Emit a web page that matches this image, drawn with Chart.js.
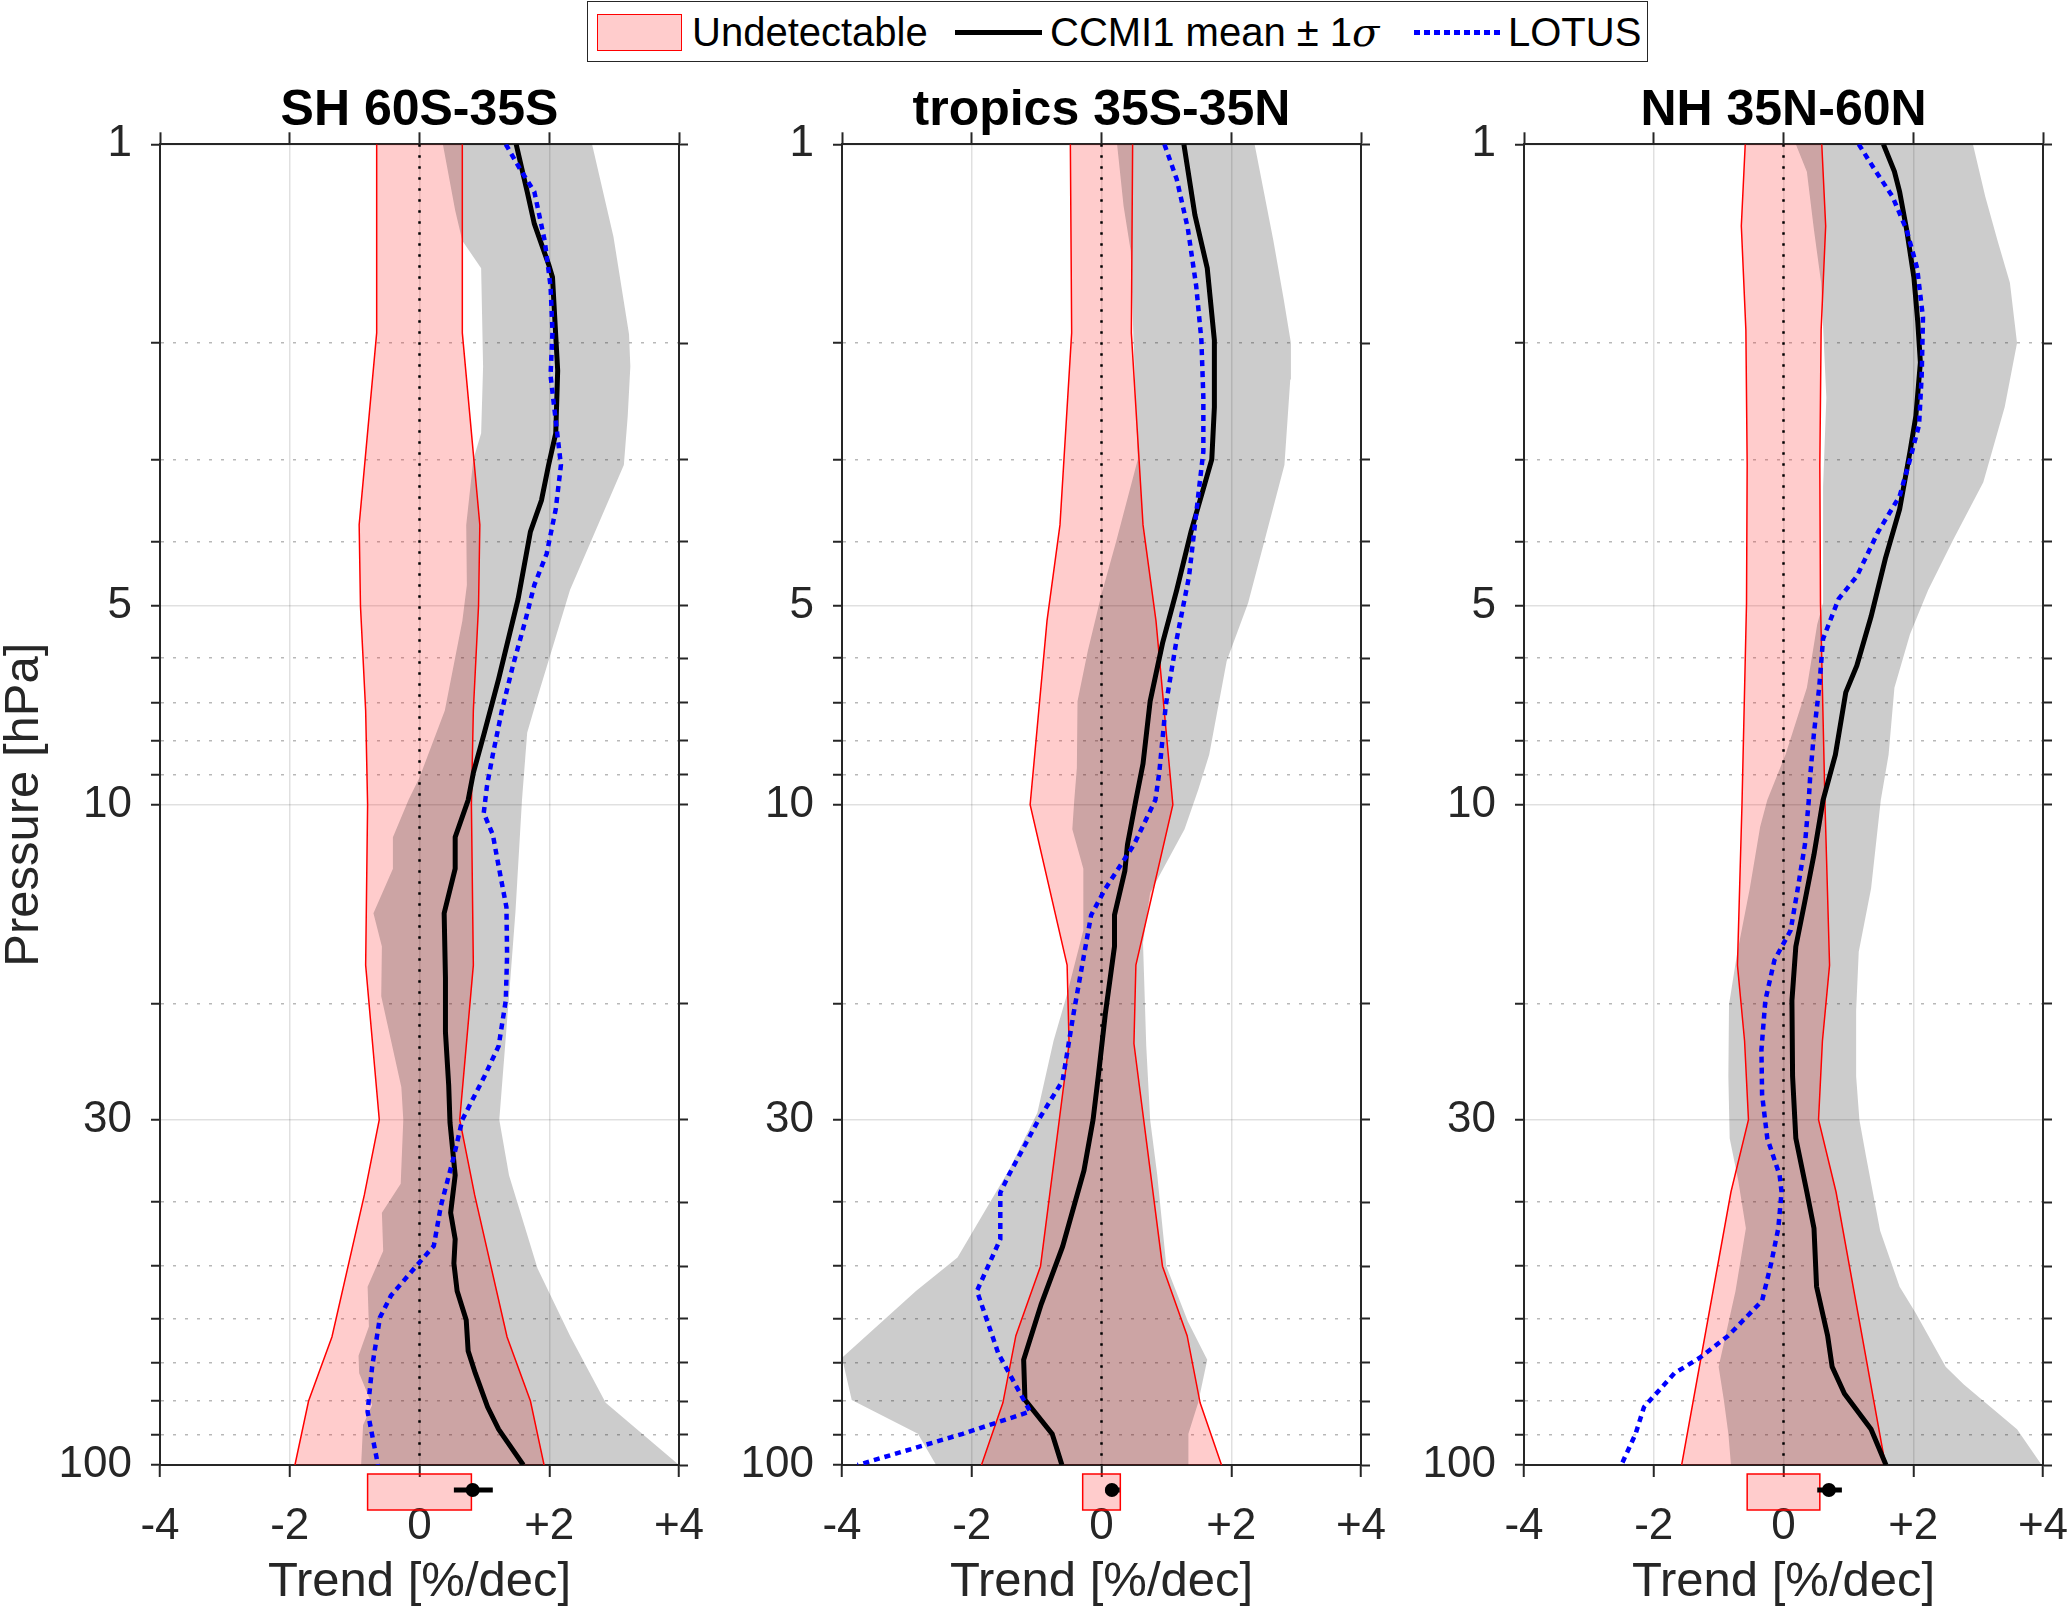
<!DOCTYPE html>
<html>
<head>
<meta charset="utf-8">
<script src="https://cdn.jsdelivr.net/npm/chart.js"></script>
<style>
  html, body { margin: 0; padding: 0; background: #fff; }
  body { position: relative; width: 2067px; height: 1608px; overflow: hidden; font-family: "Liberation Sans", Arial, sans-serif; }
  canvas { position: absolute; top: 0; }
  .leg { position: absolute; left: 587px; top: 1px; width: 1059px; height: 59px; border: 1.5px solid #262626; background: #fff; }
  .leg span { position: absolute; top: 6px; font-size: 40px; line-height: 48px; color: #000; white-space: nowrap; }
  .sw { position: absolute; top: 12px; left: 9px; width: 83px; height: 35px; background: rgba(255,0,0,0.2); border: 1.5px solid #ff0000; }
  .ln { position: absolute; top: 28px; left: 367px; width: 87px; height: 5px; background: #000; }
  .dl { position: absolute; top: 28px; left: 826px; width: 87px; height: 5px;
        background: repeating-linear-gradient(to right, #0000ff 0 6px, transparent 6px 10px); }
</style>
</head>
<body>
<div class="leg">
  <div class="sw"></div><span style="left:104px">Undetectable</span>
  <div class="ln"></div><span style="left:462px">CCMI1 mean &plusmn; 1<i style="font-family:'DejaVu Serif',serif">&sigma;</i></span>
  <div class="dl"></div><span style="left:920px">LOTUS</span>
</div>
<canvas id="p0"></canvas>
<canvas id="p1"></canvas>
<canvas id="p2"></canvas>
<script>
// tick values and labels
const X_TICKS = [-4, -2, 0, 2, 4];
const X_LABELS = ['-4', '-2', '0', '+2', '+4'];
const Y_TICKS = [1, 2, 3, 4, 5, 6, 7, 8, 9, 10, 20, 30, 40, 50, 60, 70, 80, 90, 100];
const Y_MAJOR = [1, 5, 10, 30, 100];
const TITLES = ['SH 60S-35S', 'tropics 35S-35N', 'NH 35N-60N'];

// SH 60S-35S
const SH_UND_P = [1, 1.93, 3.77, 5, 7.2, 10, 17.5, 30, 39, 64, 80, 100];
const SH_UND = [0.66, 0.66, 0.93, 0.91, 0.83, 0.80, 0.83, 0.62, 0.85, 1.35, 1.71, 1.92];
const SH_LO_P = [1, 1.26, 1.4, 1.54, 2.17, 2.74, 3.0, 3.77, 4.65, 5.27, 7.2, 9.1, 9.84, 11.2, 12.5, 14.6, 16.4, 19.5, 21.4, 26.8, 30, 37.5, 41.5, 47.4, 53.7, 61.7, 68.3, 72.6, 81.1, 87, 100];
const SH_LO = [0.36, 0.55, 0.66, 0.95, 0.98, 0.95, 0.83, 0.72, 0.73, 0.66, 0.39, 0.0, -0.17, -0.41, -0.41, -0.71, -0.58, -0.59, -0.50, -0.28, -0.25, -0.29, -0.58, -0.56, -0.80, -0.78, -0.94, -0.93, -0.73, -0.87, -0.90];
const SH_HI_P = [1, 1.38, 1.94, 2.17, 2.58, 3.06, 4.73, 6.87, 7.78, 9.84, 14.5, 19.5, 30, 36.4, 50.4, 63.7, 80.5, 100];
const SH_HI = [2.66, 2.99, 3.23, 3.25, 3.21, 3.15, 2.32, 1.82, 1.66, 1.58, 1.48, 1.38, 1.23, 1.38, 1.82, 2.32, 2.87, 4.0];
const SH_MEAN_P = [1, 1.18, 1.32, 1.52, 1.59, 2.2, 2.74, 3.06, 3.46, 3.86, 4.88, 6.45, 7.78, 8.95, 9.84, 11.2, 12.5, 14.6, 18.3, 22.1, 26.6, 30.3, 36.4, 41.5, 45.5, 49.5, 54.5, 60.3, 67.2, 72.6, 81.7, 88.3, 100];
const SH_MEAN = [1.49, 1.66, 1.77, 1.99, 2.05, 2.13, 2.10, 1.99, 1.88, 1.71, 1.52, 1.22, 1.0, 0.83, 0.75, 0.55, 0.55, 0.38, 0.40, 0.40, 0.45, 0.47, 0.55, 0.48, 0.55, 0.53, 0.58, 0.72, 0.75, 0.86, 1.05, 1.22, 1.60];
const SH_LOT_P = [1, 1.09, 1.18, 1.40, 1.64, 1.92, 2.24, 2.62, 3.06, 3.57, 4.17, 4.65, 5.27, 6.16, 7.2, 8.4, 9.37, 10.3, 11.1, 12.4, 14.3, 16.9, 19.8, 23.2, 25.8, 30, 34.1, 40.5, 46.6, 50.1, 55.4, 59.8, 71, 83, 100];
const SH_LOT = [1.33, 1.55, 1.77, 1.93, 2.02, 2.05, 2.02, 2.10, 2.18, 2.10, 1.96, 1.77, 1.63, 1.44, 1.27, 1.13, 1.04, 0.99, 1.13, 1.22, 1.34, 1.35, 1.33, 1.22, 1.0, 0.66, 0.53, 0.33, 0.22, -0.06, -0.44, -0.61, -0.73, -0.80, -0.64];

// tropics 35S-35N
const TR_UND_P = [1, 1.93, 3.77, 5.27, 10, 17.5, 23, 30, 50, 63.7, 80.5, 100];
const TR_UND = [0.48, 0.46, 0.64, 0.84, 1.10, 0.53, 0.50, 0.65, 0.94, 1.32, 1.52, 1.85];
const TR_LO_P = [1, 1.24, 1.45, 2.07, 3.0, 3.98, 4.8, 5.84, 6.97, 8.8, 9.84, 10.9, 12.5, 15.5, 19.5, 22.8, 29.3, 35.8, 48.5, 54.5, 68.8, 79.7, 89.7, 100];
const TR_LO = [0.24, 0.34, 0.45, 0.50, 0.56, 0.23, 0.0, -0.21, -0.37, -0.38, -0.42, -0.45, -0.28, -0.28, -0.54, -0.74, -0.99, -1.43, -2.22, -2.86, -4.0, -3.85, -2.83, -2.55];
const TR_HI_P = [1, 1.40, 1.72, 2.0, 2.27, 3.06, 4.95, 6.06, 8.4, 9.5, 10.9, 13.6, 16.2, 23.2, 30, 36.4, 50, 60.6, 69.3, 80.5, 89.7, 100];
const TR_HI = [2.36, 2.65, 2.81, 2.92, 2.91, 2.82, 2.26, 1.93, 1.66, 1.49, 1.28, 0.75, 0.64, 0.69, 0.75, 0.86, 1.0, 1.33, 1.63, 1.49, 1.34, 1.34];
const TR_MEAN_P = [1, 1.28, 1.54, 1.98, 2.5, 3.0, 3.86, 4.73, 5.7, 6.97, 8.67, 9.84, 11.5, 12.6, 14.7, 16.4, 20.7, 25.8, 30, 35.8, 46.7, 57.1, 69.3, 79.7, 89.7, 100];
const TR_MEAN = [1.27, 1.44, 1.63, 1.74, 1.74, 1.70, 1.38, 1.16, 0.94, 0.75, 0.64, 0.53, 0.40, 0.36, 0.20, 0.20, 0.06, -0.05, -0.13, -0.27, -0.60, -0.93, -1.20, -1.18, -0.76, -0.61];
const TR_LOT_P = [1, 1.13, 1.34, 1.64, 1.98, 2.42, 2.92, 3.41, 4.51, 5.61, 7.08, 8.95, 9.84, 11.5, 13.4, 14.7, 16.9, 20.7, 26.2, 30, 36.4, 38.7, 45.5, 54.5, 67.8, 83, 89.7, 100];
const TR_LOT = [0.97, 1.16, 1.33, 1.46, 1.54, 1.57, 1.57, 1.49, 1.35, 1.16, 0.99, 0.89, 0.83, 0.50, 0.06, -0.16, -0.27, -0.43, -0.60, -0.97, -1.43, -1.56, -1.56, -1.92, -1.59, -1.10, -2.14, -3.76];

// NH 35N-60N
const NH_UND_P = [1, 1.33, 1.91, 3.06, 4.95, 10, 17.5, 22.8, 30, 38.6, 100];
const NH_UND = [0.59, 0.65, 0.58, 0.56, 0.57, 0.64, 0.71, 0.60, 0.54, 0.81, 1.57];
const NH_LO_P = [1, 1.10, 1.35, 1.62, 2.42, 3.3, 4.95, 5.33, 6.65, 8.4, 9.84, 10.8, 13.4, 16.9, 20.1, 25.8, 32, 37, 43.8, 54.5, 71, 79.7, 89.7, 100];
const NH_LO = [0.19, 0.36, 0.47, 0.58, 0.66, 0.61, 0.61, 0.52, 0.36, 0.03, -0.25, -0.36, -0.52, -0.72, -0.84, -0.85, -0.83, -0.70, -0.58, -0.74, -1.0, -0.92, -0.85, -0.81];
const NH_HI_P = [1, 1.2, 1.4, 1.62, 2.0, 2.5, 3.25, 3.98, 4.73, 5.52, 6.65, 8.4, 9.84, 13.4, 16.7, 20.5, 25.8, 30, 34, 44.2, 53.7, 58.9, 71, 75.5, 88.3, 100];
const NH_HI = [2.92, 3.11, 3.30, 3.49, 3.60, 3.41, 3.08, 2.61, 2.23, 1.95, 1.71, 1.62, 1.50, 1.35, 1.16, 1.12, 1.12, 1.17, 1.27, 1.49, 1.79, 2.04, 2.50, 2.78, 3.60, 3.98];
const NH_MEAN_P = [1, 1.10, 1.18, 1.35, 1.59, 1.86, 2.14, 2.58, 2.92, 3.57, 4.24, 5.19, 6.16, 6.76, 8.4, 9.84, 11.9, 14, 16.4, 19.8, 25.8, 32, 38.6, 43.8, 53.7, 63.7, 71, 78, 88.3, 100];
const NH_MEAN = [1.54, 1.71, 1.79, 1.90, 2.01, 2.07, 2.11, 2.04, 1.95, 1.79, 1.57, 1.35, 1.13, 0.96, 0.80, 0.61, 0.47, 0.33, 0.19, 0.13, 0.14, 0.19, 0.36, 0.47, 0.51, 0.68, 0.75, 0.94, 1.35, 1.58];
const NH_LOT_P = [1, 1.09, 1.2, 1.35, 1.54, 1.83, 2.24, 2.66, 3.0, 3.41, 3.86, 4.51, 4.88, 5.61, 6.65, 7.78, 9.1, 9.84, 11.5, 13.4, 15.5, 17.2, 19.8, 23.5, 27.5, 32, 36.4, 38.6, 43.8, 49.5, 56.4, 63.7, 68.8, 72.6, 81.7, 89.7, 100];
const NH_LOT = [1.16, 1.40, 1.68, 1.90, 2.06, 2.15, 2.13, 2.09, 1.95, 1.79, 1.46, 1.13, 0.85, 0.61, 0.55, 0.47, 0.41, 0.39, 0.33, 0.22, 0.11, -0.14, -0.28, -0.34, -0.33, -0.25, -0.06, -0.03, -0.08, -0.19, -0.33, -0.85, -1.29, -1.68, -2.15, -2.28, -2.50];

// column-mean summary under each panel: undetectable half width, mean and its range
const BOX_HALF = [0.80, 0.29, 0.56];
const DOT = [0.82, 0.16, 0.70];
const DOT_LO = [0.53, 0.06, 0.52];
const DOT_HI = [1.13, 0.28, 0.90];

const PANELS = [
  { und: [SH_UND_P, SH_UND], lo: [SH_LO_P, SH_LO], hi: [SH_HI_P, SH_HI], mean: [SH_MEAN_P, SH_MEAN], lot: [SH_LOT_P, SH_LOT] },
  { und: [TR_UND_P, TR_UND], lo: [TR_LO_P, TR_LO], hi: [TR_HI_P, TR_HI], mean: [TR_MEAN_P, TR_MEAN], lot: [TR_LOT_P, TR_LOT] },
  { und: [NH_UND_P, NH_UND], lo: [NH_LO_P, NH_LO], hi: [NH_HI_P, NH_HI], mean: [NH_MEAN_P, NH_MEAN], lot: [NH_LOT_P, NH_LOT] }
];

const FONT = '"Liberation Sans", Arial, sans-serif';
const AXIS = '#262626';
const GRID_MAJOR = 'rgba(0,0,0,0.12)';
const GRID_MINOR = 'rgba(0,0,0,0.28)';
const CHART_LEFT = [160, 842, 1524];
const PLOT_W = 519;
const LEFT_W = 160, RIGHT_W = 70;

function profile(ps, xs) {
  return ps.map((p, i) => ({ x: xs[i], y: p }));
}

function band(loP, lo, hiP, hi) {
  return profile(loP, lo).concat(profile(hiP, hi).reverse());
}

function isMajor(ctx) {
  return ctx.tick && Y_MAJOR.includes(ctx.tick.value);
}

const summaryBox = {
  id: 'summaryBox',
  afterDraw(chart, args, opts) {
    const i = opts.panel;
    const xs = chart.scales.x;
    const c = chart.ctx;
    const top = chart.chartArea.bottom + 9;
    const x0 = xs.getPixelForValue(-BOX_HALF[i]);
    const x1 = xs.getPixelForValue(BOX_HALF[i]);
    c.save();
    c.fillStyle = 'rgba(255,0,0,0.2)';
    c.fillRect(x0, top, x1 - x0, 36);
    c.strokeStyle = '#ff0000';
    c.lineWidth = 1.5;
    c.strokeRect(x0, top, x1 - x0, 36);
    const yc = top + 16;
    c.strokeStyle = '#000';
    c.lineWidth = 5;
    c.beginPath();
    c.moveTo(xs.getPixelForValue(DOT_LO[i]), yc);
    c.lineTo(xs.getPixelForValue(DOT_HI[i]), yc);
    c.stroke();
    c.fillStyle = '#000';
    c.beginPath();
    c.arc(xs.getPixelForValue(DOT[i]), yc, 7, 0, Math.PI * 2);
    c.fill();
    c.restore();
  }
};

function makePanel(i) {
  const d = PANELS[i];
  const canvas = document.getElementById('p' + i);
  const w = LEFT_W + PLOT_W + RIGHT_W;
  canvas.width = w;
  canvas.height = 1608;
  canvas.style.width = w + 'px';
  canvas.style.height = '1608px';
  canvas.style.left = (CHART_LEFT[i] - LEFT_W) + 'px';

  const negUnd = d.und[1].map(v => -v);
  const line = { pointRadius: 0, tension: 0, fill: false };

  // first dataset is drawn last (on top)
  const datasets = [
    Object.assign({ data: profile(d.lot[0], d.lot[1]), borderColor: '#0000ff', borderWidth: 4.5, borderDash: [6, 5], borderCapStyle: 'butt' }, line),
    Object.assign({ data: profile(d.mean[0], d.mean[1]), borderColor: '#000', borderWidth: 5 }, line),
    Object.assign({ data: profile([1, 100], [0, 0]), borderColor: '#000', borderWidth: 2.5, borderDash: [2.5, 8.5] }, line),
    Object.assign({ data: profile(d.und[0], d.und[1]), borderColor: '#ff0000', borderWidth: 1.5 }, line),
    Object.assign({ data: profile(d.und[0], negUnd), borderColor: '#ff0000', borderWidth: 1.5 }, line),
    Object.assign({}, line, { data: band(d.lo[0], d.lo[1], d.hi[0], d.hi[1]), borderWidth: 0, backgroundColor: 'rgba(0,0,0,0.2)', fill: 'shape' }),
    Object.assign({}, line, { data: band(d.und[0], negUnd, d.und[0], d.und[1]), borderWidth: 0, backgroundColor: 'rgba(255,0,0,0.2)', fill: 'shape' })
  ];

  const tickFont = { family: FONT, size: 44, lineHeight: 1.2 };
  const labelFont = { family: FONT, size: 49, lineHeight: 1 };

  new Chart(canvas, {
    type: 'line',
    data: { datasets },
    plugins: [summaryBox],
    options: {
      responsive: false,
      animation: false,
      devicePixelRatio: 1,
      layout: { padding: 0 },
      plugins: {
        legend: { display: false },
        tooltip: { enabled: false },
        title: {
          display: true, text: TITLES[i], fullSize: false, color: '#000',
          font: { family: FONT, size: 50, weight: 'bold', lineHeight: 1.2 },
          padding: { top: 81, bottom: 0 }
        },
        summaryBox: { panel: i }
      },
      scales: {
        x: {
          type: 'linear', position: 'bottom', min: -4, max: 4,
          afterBuildTicks: s => { s.ticks = X_TICKS.map(v => ({ value: v })); },
          afterFit: s => { s.height = 143; },
          ticks: { callback: (v, k) => X_LABELS[k], color: AXIS, font: tickFont, padding: 23, maxRotation: 0, autoSkip: false },
          grid: { color: GRID_MAJOR, lineWidth: 1.5, tickColor: AXIS, tickWidth: 2, tickLength: 12 },
          border: { color: AXIS, width: 2 },
          title: { display: true, text: 'Trend [%/dec]', color: AXIS, font: labelFont, padding: { top: 0, bottom: 1.5 } }
        },
        x2: {
          type: 'linear', position: 'top', min: -4, max: 4,
          afterBuildTicks: s => { s.ticks = X_TICKS.map(v => ({ value: v })); },
          afterFit: s => { s.height = 3.3; },
          ticks: { display: false },
          grid: { drawOnChartArea: false, tickColor: AXIS, tickWidth: 2, tickLength: 12 },
          border: { color: AXIS, width: 2 }
        },
        y: {
          type: 'logarithmic', position: 'left', reverse: true, min: 1, max: 100,
          afterBuildTicks: s => { s.ticks = Y_TICKS.map(v => ({ value: v })); },
          afterFit: s => { s.width = LEFT_W; },
          ticks: { callback: v => Y_MAJOR.includes(v) ? String(v) : '', color: AXIS, font: tickFont, padding: 19, autoSkip: false },
          grid: {
            color: ctx => isMajor(ctx) ? GRID_MAJOR : GRID_MINOR,
            lineWidth: 1.5, tickColor: AXIS, tickWidth: 2, tickLength: 9
          },
          border: { color: AXIS, width: 2, dash: ctx => (ctx.tick && !Y_MAJOR.includes(ctx.tick.value)) ? [3, 9] : [] },
          title: { display: i === 0, text: 'Pressure [hPa]', color: AXIS, font: labelFont, padding: { top: 0, bottom: 0 } }
        },
        y2: {
          type: 'logarithmic', position: 'right', reverse: true, min: 1, max: 100,
          afterBuildTicks: s => { s.ticks = Y_TICKS.map(v => ({ value: v })); },
          afterFit: s => { s.width = RIGHT_W; },
          ticks: { display: false },
          grid: { drawOnChartArea: false, tickColor: AXIS, tickWidth: 2, tickLength: 9 },
          border: { color: AXIS, width: 2 }
        }
      }
    }
  });
}

[0, 1, 2].forEach(makePanel);
</script>
</body>
</html>
